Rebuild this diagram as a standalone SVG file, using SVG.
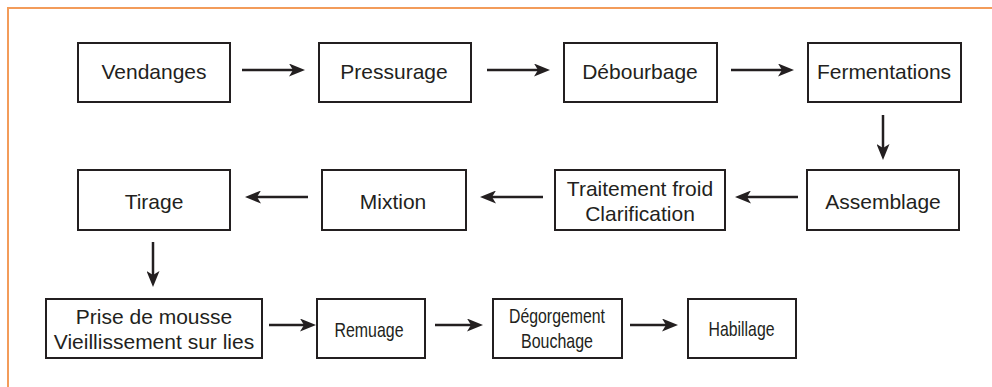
<svg xmlns="http://www.w3.org/2000/svg" width="992" height="387" viewBox="0 0 992 387">
<defs>
<style>
.box{fill:#fff;stroke:#231f20;stroke-width:2}
.t{font-family:"Liberation Sans",Arial,Helvetica,sans-serif;font-size:21px;fill:#231f20;text-anchor:middle}
.c{stroke:#231f20;stroke-width:2.5;fill:none;marker-end:url(#ah)}
</style>
<marker id="ah" markerUnits="userSpaceOnUse" markerWidth="16" markerHeight="13" refX="6" refY="6.5" orient="auto" viewBox="0 0 16 13">
<path d="M0,0 L16,6.5 L0,13 L4,6.5 z" fill="#231f20"/>
</marker>
</defs>
<rect x="0" y="0" width="992" height="387" fill="#fff"/>
<rect x="8" y="8" width="1010" height="400" fill="none" stroke="#f39c5a" stroke-width="2"/>
<g id="connectors">
<line class="c" x1="242" y1="70" x2="295" y2="70"/>
<line class="c" x1="487" y1="70" x2="540" y2="70"/>
<line class="c" x1="731" y1="70" x2="784" y2="70"/>
<line class="c" x1="883" y1="115" x2="883" y2="150"/>
<line class="c" x1="798" y1="197" x2="745" y2="197"/>
<line class="c" x1="543" y1="197" x2="490" y2="197"/>
<line class="c" x1="308" y1="197" x2="255" y2="197"/>
<line class="c" x1="153" y1="242" x2="153" y2="277"/>
<line class="c" x1="269" y1="325" x2="306" y2="325"/>
<line class="c" x1="435" y1="325" x2="473" y2="325"/>
<line class="c" x1="630" y1="325" x2="668" y2="325"/>
</g>
<g id="vendanges"><rect class="box" x="78" y="43" width="152" height="59"/><text class="t" x="154" y="79">Vendanges</text></g>
<g id="pressurage"><rect class="box" x="319" y="43" width="152" height="59"/><text class="t" x="394" y="79">Pressurage</text></g>
<g id="debourbage"><rect class="box" x="564" y="43" width="153" height="59"/><text class="t" x="640" y="79">Débourbage</text></g>
<g id="fermentations"><rect class="box" x="808" y="43" width="153" height="59"/><text class="t" x="884" y="79">Fermentations</text></g>
<g id="assemblage"><rect class="box" x="807" y="170" width="152" height="60"/><text class="t" x="883" y="209">Assemblage</text></g>
<g id="traitement"><rect class="box" x="555" y="170" width="170" height="60"/><text class="t" x="640" y="196">Traitement froid</text><text class="t" x="640" y="220.5">Clarification</text></g>
<g id="mixtion"><rect class="box" x="322" y="170" width="144" height="60"/><text class="t" x="393" y="209">Mixtion</text></g>
<g id="tirage"><rect class="box" x="78" y="170" width="152" height="60"/><text class="t" x="154" y="209">Tirage</text></g>
<g id="prise"><rect class="box" x="46" y="299" width="216" height="59"/><text class="t" x="154" y="324">Prise de mousse</text><text class="t" x="154" y="349">Vieillissement sur lies</text></g>
<g id="remuage"><rect class="box" x="317" y="299" width="108" height="59"/><text class="t" x="369" y="337" textLength="69" lengthAdjust="spacingAndGlyphs">Remuage</text></g>
<g id="degorgement"><rect class="box" x="493" y="299" width="129" height="59"/><text class="t" x="557" y="323" textLength="96" lengthAdjust="spacingAndGlyphs">Dégorgement</text><text class="t" x="557" y="348" textLength="72" lengthAdjust="spacingAndGlyphs">Bouchage</text></g>
<g id="habillage"><rect class="box" x="688" y="299" width="108" height="59"/><text class="t" x="741.5" y="336" textLength="66" lengthAdjust="spacingAndGlyphs">Habillage</text></g>
</svg>
